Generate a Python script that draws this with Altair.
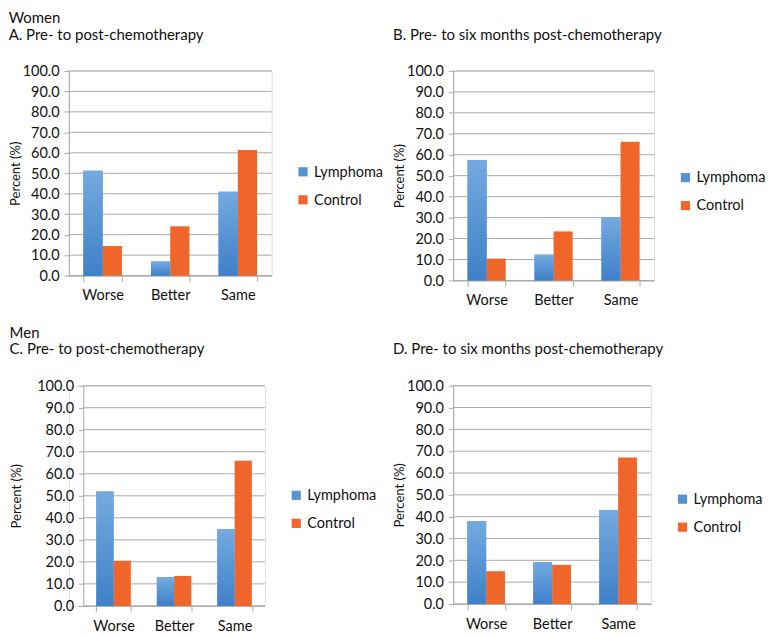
import altair as alt
import pandas as pd

categories = ["Worse", "Better", "Same"]
series = ["Lymphoma", "Control"]
y_ticks = [0, 10, 20, 30, 40, 50, 60, 70, 80, 90, 100]

a_lymphoma = [51.2, 6.9, 41.0]
a_control = [14.5, 24.1, 61.4]
b_lymphoma = [57.5, 12.3, 30.0]
b_control = [10.4, 23.4, 66.2]
c_lymphoma = [51.9, 13.0, 34.8]
c_control = [20.5, 13.6, 65.9]
d_lymphoma = [37.9, 19.2, 42.9]
d_control = [15.0, 17.9, 67.1]

titles = {
    "A": ["Women", "A. Pre- to post-chemotherapy"],
    "B": [" ", "B. Pre- to six months post-chemotherapy"],
    "C": ["Men", "C. Pre- to post-chemotherapy"],
    "D": [" ", "D. Pre- to six months post-chemotherapy"],
}

FONT = "Lato"
BLUE = "#5593d3"
ORANGE = "#f0652a"
GRID = "#a8a8a8"


def frame(lym, ctl):
    rows = []
    for i, c in enumerate(categories):
        rows.append({"category": c, "series": "Lymphoma", "value": lym[i]})
        rows.append({"category": c, "series": "Control", "value": ctl[i]})
    return pd.DataFrame(rows)


def panel(key, lym, ctl, w, h, title_pad, legend_y, shift=0):
    df = frame(lym, ctl)
    total_w = w + shift
    x = alt.X(
        "category:N",
        sort=categories,
        scale=alt.Scale(paddingInner=0.43, paddingOuter=0.215,
                        range=[shift, total_w]),
        axis=alt.Axis(
            title=None, labelAngle=0, tickBand="extent", labelFont=FONT,
            labelFontSize=15, labelColor="#111", labelPadding=7,
            domainColor=GRID, tickColor=GRID, tickSize=6, grid=False,
        ),
    )
    xo = alt.XOffset("series:N", sort=series,
                     scale=alt.Scale(paddingInner=0, paddingOuter=0))
    y = alt.Y(
        "value:Q",
        scale=alt.Scale(domain=[0, 100], nice=False),
        axis=alt.Axis(
            values=y_ticks, format=".1f", title="Percent (%)",
            titleFont=FONT, titleFontSize=13.5, titleFontWeight="normal",
            titleColor="#111", titlePadding=title_pad, labelFont=FONT,
            labelFontSize=15, labelColor="#111", labelPadding=5,
            grid=False, domainColor=GRID, tickColor=GRID, tickSize=5,
            offset=-shift,
        ),
    )
    grid_df = pd.DataFrame({"value": y_ticks})
    grid = alt.Chart(grid_df).mark_rule(color=GRID, strokeWidth=1).encode(
        y=y, x=alt.value(shift), x2=alt.value(total_w)
    )
    base = alt.Chart(df).mark_bar().encode(
        x=x, xOffset=xo, y=y,
        color=alt.Color(
            "series:N", sort=series,
            scale=alt.Scale(domain=series, range=[BLUE, ORANGE]),
            legend=alt.Legend(
                title=None, orient="none", legendX=total_w + 25,
                legendY=legend_y,
                symbolType="square", symbolSize=90, symbolStrokeWidth=0,
                labelFont=FONT, labelFontSize=15, labelColor="#111",
                rowPadding=13, symbolOffset=0, labelOffset=4,
            ),
        ),
    )
    grad = alt.Chart(df).transform_filter(
        alt.datum.series == "Lymphoma"
    ).mark_bar(
        color=alt.Gradient(
            gradient="linear",
            stops=[alt.GradientStop(color="#74aadf", offset=0),
                   alt.GradientStop(color="#3f80c8", offset=1)],
            x1=0, x2=0, y1=0, y2=1,
        )
    ).encode(x=x, xOffset=xo, y=y)
    return alt.layer(grid, base, grad).properties(
        width=total_w, height=h,
        title=alt.TitleParams(
            text=titles[key], anchor="start", frame="bounds", font=FONT,
            fontSize=15.5, fontWeight="normal", color="#111", lineHeight=17,
            offset=22,
        ),
    )


pa = panel("A", a_lymphoma, a_control, 210, 212, 0, 97)
pb = panel("B", b_lymphoma, b_control, 208, 217, 0, 103)
pc = panel("C", c_lymphoma, c_control, 188, 228, 14, 106, shift=15)
pd_ = panel("D", d_lymphoma, d_control, 205, 226, 0, 110)

chart = alt.concat(
    pa, pb, pc, pd_, columns=2,
    spacing={"row": 18, "column": 8},
).resolve_scale(
    x="independent", xOffset="independent", y="independent", color="independent"
).resolve_legend(color="independent").properties(
    padding={"left": 0, "top": -8, "right": 0, "bottom": -10}
).configure_view(stroke=None).configure(background="white")

chart.save("out.html", embed_options={"renderer": "svg", "actions": False})
